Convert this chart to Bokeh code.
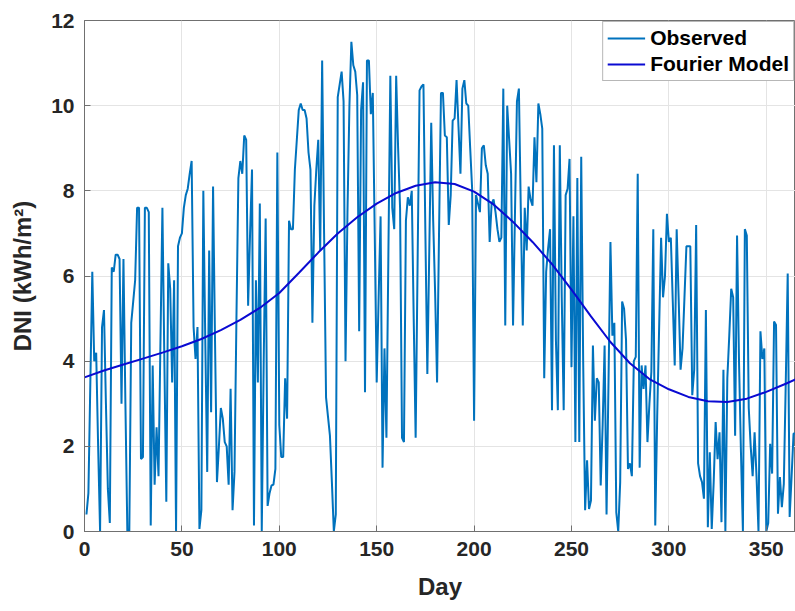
from bokeh.plotting import figure
from bokeh.models import Range1d, Legend, LegendItem, FixedTicker
from bokeh.embed import file_html
from bokeh.resources import INLINE

# ---- data ----
days = list(range(1, 366))
observed_dni = [
    0.4, 0.9, 3.5, 6.1, 4.0, 4.2, 2.0, 0.0, 4.8, 5.2,          # 1-10
    3.0, 1.0, 0.2, 6.2, 6.1, 6.5, 6.5, 6.4, 3.0, 6.4,          # 11-20
    3.0, 0.0, 0.0, 4.9, 5.4, 5.9, 7.6, 7.6, 1.7, 1.75,         # 21-30
    7.6, 7.6, 7.5, 0.14, 3.9, 1.1, 2.45, 1.3, 4.5, 7.6,        # 31-40
    4.0, 0.7, 6.3, 5.7, 3.5, 5.9, 0.0, 6.7, 6.9, 7.0,          # 41-50
    7.6, 7.9, 8.05, 8.4, 8.7, 4.8, 4.05, 4.8, 0.06, 0.5,       # 51-60
    8.0, 4.5, 1.4, 6.6, 2.8, 8.1, 4.5, 1.16, 2.0, 2.9,         # 61-70
    2.65, 2.1, 2.0, 1.1, 3.35, 0.5, 1.4, 5.0, 8.3, 8.7,        # 71-80
    8.4, 9.3, 9.2, 5.3, 7.0, 8.5, 0.14, 5.9, 3.5, 7.7,         # 81-90
    0.0, 4.0, 7.35, 0.6, 0.9, 1.08, 1.1, 1.47, 8.9, 2.5,       # 91-100
    1.75, 1.75, 3.6, 2.65, 7.3, 7.1, 7.1, 8.5, 9.2, 9.9,       # 101-110
    10.05, 9.9, 9.9, 9.7, 8.9, 8.5, 4.9, 7.65, 8.5, 9.2,       # 111-120
    6.6, 11.06, 7.0, 3.15, 2.7, 2.25, 1.16, 0.0, 0.4, 10.2,    # 121-130
    10.5, 10.8, 10.1, 4.0, 7.5, 10.0, 11.5, 10.95, 10.8, 10.25,  # 131-140
    4.7, 9.9, 10.55, 3.27, 11.06, 11.06, 9.8, 10.3, 7.0, 3.5,  # 141-150
    5.5, 7.4, 1.5, 4.3, 2.2, 6.5, 10.7, 7.6, 7.1, 10.7,        # 151-160
    9.0, 7.6, 2.2, 2.1, 7.3, 7.85, 7.65, 8.0, 5.0, 2.2,        # 161-170
    6.3, 10.36, 10.45, 10.5, 7.0, 3.7, 6.6, 9.6, 7.3, 5.6,     # 171-180
    3.5, 7.0, 10.3, 10.3, 9.3, 9.26, 7.2, 7.9, 9.65, 9.7,      # 181-190
    10.6, 9.5, 8.4, 10.4, 10.6, 10.05, 10.0, 9.0, 8.05, 2.6,   # 191-200
    7.9, 7.7, 7.5, 9.0, 9.07, 8.6, 8.4, 6.8, 7.7, 7.8,         # 201-210
    7.5, 7.1, 6.8, 6.9, 10.4, 4.84, 10.0, 9.2, 8.4, 4.84,      # 211-220
    7.5, 10.1, 10.4, 7.5, 4.84, 7.6, 6.6, 8.1, 7.8, 7.65,      # 221-230
    9.26, 8.2, 10.05, 9.8, 9.46, 3.6, 6.1, 6.65, 7.1, 2.85,    # 231-240
    9.07, 4.5, 2.85, 9.07, 5.5, 2.85, 7.9, 8.05, 8.75, 3.86,   # 241-250
    7.4, 2.1, 8.3, 2.1, 8.8, 4.0, 0.5, 1.67, 0.53, 0.73,       # 251-260
    4.37, 2.6, 3.6, 3.5, 1.08, 2.5, 4.37, 0.4, 3.5, 6.8,       # 261-270
    4.6, 4.9, 0.45, 0.0, 1.16, 5.4, 5.23, 4.5, 1.47, 1.6,      # 271-280
    1.3, 4.0, 4.1, 8.4, 1.5, 3.9, 3.35, 3.9, 2.1, 3.0,         # 281-290
    3.75, 7.1, 0.14, 2.7, 4.8, 6.9, 5.5, 6.0, 7.46, 6.8,       # 291-300
    6.9, 5.4, 3.9, 7.1, 5.5, 3.8, 4.3, 5.5, 6.7, 6.7,          # 301-310
    6.7, 3.2, 3.8, 7.2, 1.6, 1.3, 1.16, 0.77, 5.2, 0.1,        # 311-320
    1.86, 0.06, 1.16, 2.57, 1.7, 2.33, 0.22, 3.8, 0.0, 3.6,    # 321-330
    4.6, 5.7, 5.5, 2.25, 6.95, 4.0, 1.86, 0.0, 7.1, 6.95,      # 331-340
    2.9, 2.0, 1.3, 2.33, 1.28, 0.0, 4.7, 4.05, 4.3, 0.0,       # 341-350
    0.2, 2.06, 1.36, 4.93, 4.85, 0.42, 1.28, 0.57, 1.12, 3.5,  # 351-360
    6.06, 0.34, 1.3, 2.3, 2.3,                                 # 361-365
]

fourier_days = [0, 10, 20, 30, 40, 50, 60, 70, 80, 90, 100, 110, 120, 130,
                140, 150, 160, 170, 180, 190, 200, 210, 220, 230, 240, 250,
                260, 270, 280, 290, 300, 310, 320, 330, 340, 350, 360, 365]
fourier_dni = [3.62, 3.78, 3.92, 4.06, 4.2, 4.35, 4.52, 4.73, 4.97, 5.25,
               5.6, 6.07, 6.55, 7.0, 7.38, 7.7, 7.95, 8.12, 8.2, 8.16,
               7.98, 7.68, 7.27, 6.8, 6.28, 5.68, 5.05, 4.45, 3.95, 3.58,
               3.34, 3.16, 3.06, 3.04, 3.12, 3.28, 3.47, 3.57]

x_ticks = [0, 50, 100, 150, 200, 250, 300, 350]
y_ticks = [0, 2, 4, 6, 8, 10, 12]

FONT = "Liberation Sans"
AXIS_GRAY = "#707070"
TEXT = "#262626"

p = figure(frame_width=711, frame_height=511,
           x_range=Range1d(0, 365), y_range=Range1d(0, 12),
           output_backend="svg", toolbar_location=None,
           min_border_left=84, min_border_top=20, min_border_right=0,
           min_border_bottom=80)
p.background_fill_color = "white"
p.border_fill_color = "white"
p.outline_line_color = AXIS_GRAY
p.outline_line_width = 1

r_obs = p.line(days, observed_dni, line_color="#0072BD", line_width=2)
r_fou = p.line(fourier_days, fourier_dni, line_color="#0a0ad2", line_width=2)

for ax in (p.xaxis[0], p.yaxis[0]):
    ax.major_label_text_font = FONT
    ax.major_label_text_font_style = "bold"
    ax.major_label_text_font_size = "21px"
    ax.major_label_text_color = TEXT
    ax.axis_label_text_font = FONT
    ax.axis_label_text_font_style = "bold"
    ax.axis_label_text_font_size = "24px"
    ax.axis_label_text_color = TEXT
    ax.axis_line_color = AXIS_GRAY
    ax.major_tick_line_color = AXIS_GRAY
    ax.major_tick_in = 6
    ax.major_tick_out = 0
    ax.minor_tick_line_color = None
    ax.major_label_standoff = 10

p.xaxis.ticker = FixedTicker(ticks=x_ticks)
p.yaxis.ticker = FixedTicker(ticks=y_ticks)
p.xaxis.axis_label = "Day"
p.yaxis.axis_label = "DNI (kWh/m\u00b2)"
p.xaxis.axis_label_standoff = 14
p.yaxis.axis_label_standoff = 12

p.xgrid.grid_line_color = "#e4e4e4"
p.ygrid.grid_line_color = "#e4e4e4"
p.xgrid.ticker = FixedTicker(ticks=x_ticks)
p.ygrid.ticker = FixedTicker(ticks=y_ticks)

legend = Legend(items=[LegendItem(label="Observed", renderers=[r_obs]),
                       LegendItem(label="Fourier Model", renderers=[r_fou])],
                location="top_right")
legend.label_text_font = FONT
legend.label_text_font_style = "bold"
legend.label_text_font_size = "21px"
legend.label_text_color = "black"
legend.border_line_color = AXIS_GRAY
legend.border_line_width = 1
legend.background_fill_color = "white"
legend.background_fill_alpha = 1.0
legend.margin = 1
legend.padding = 4
legend.spacing = 2
legend.glyph_width = 38
legend.glyph_height = 24
legend.label_height = 24
legend.label_standoff = 5
p.add_layout(legend)

open("out.html", "w").write(file_html(p, INLINE))
